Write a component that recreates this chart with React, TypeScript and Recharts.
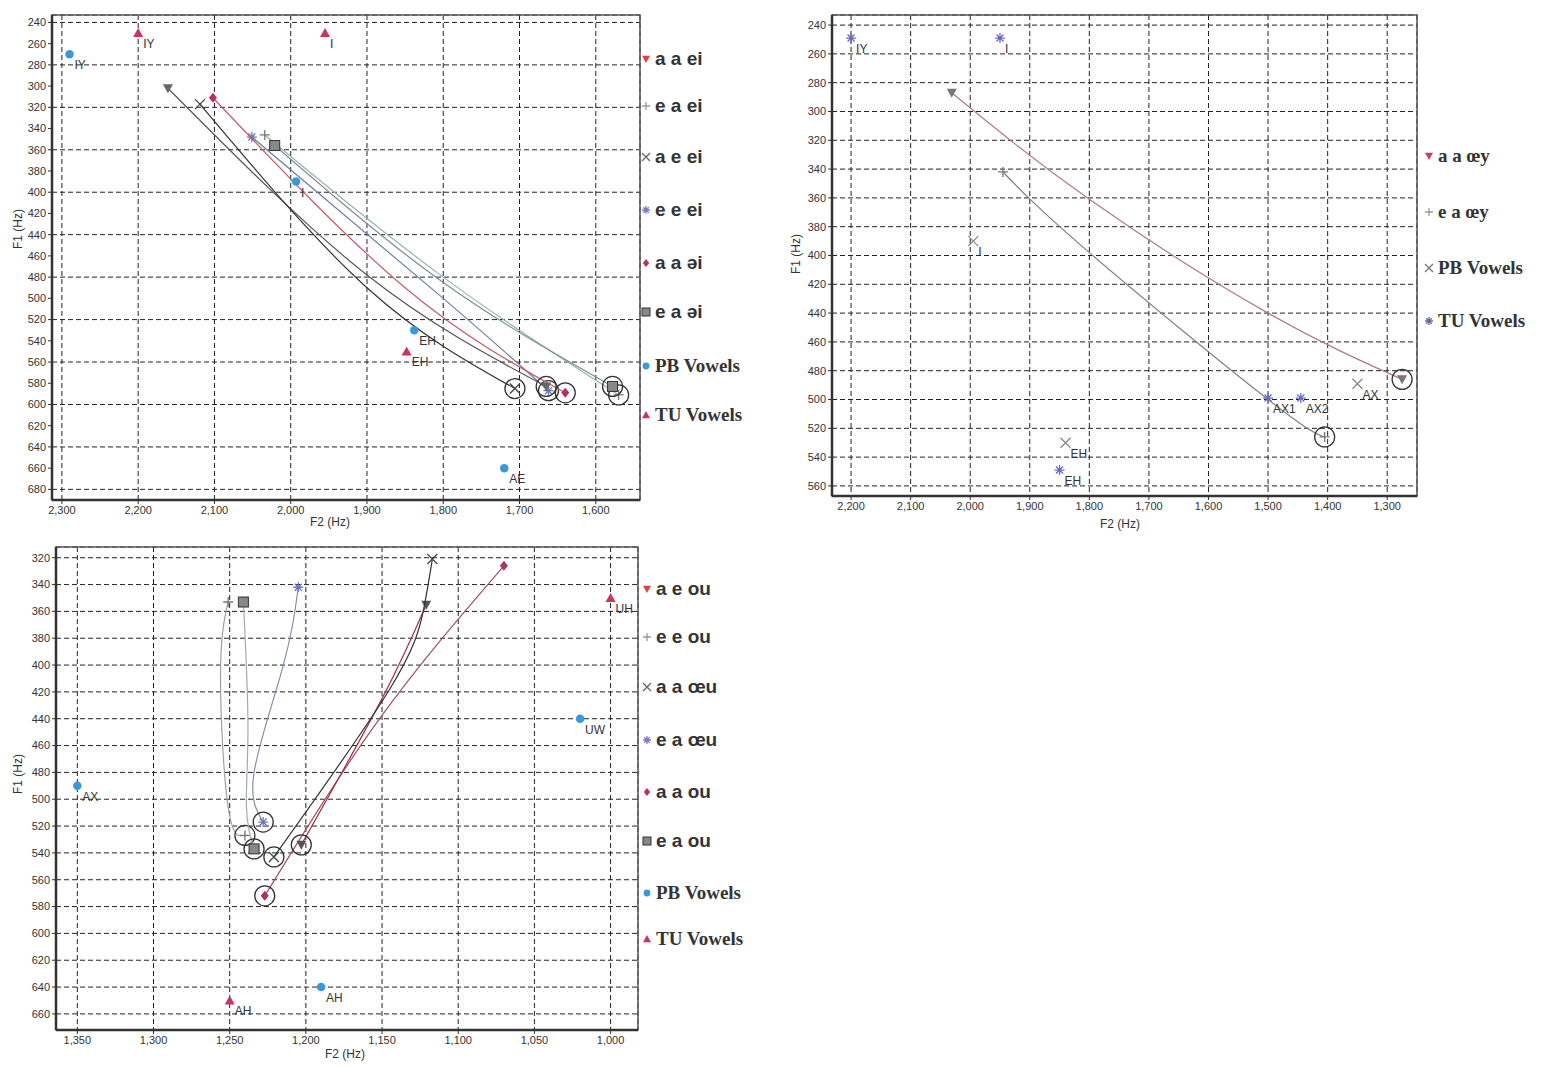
import React from "react";
import { ScatterChart, Scatter, XAxis, YAxis, CartesianGrid, ReferenceArea } from "recharts";

type Pt = { f2: number; f1: number; label?: string };

// ---- panel 1: ei / əi ----
const p1PB: Pt[] = [
  { f2: 2290, f1: 270, label: "IY" },
  { f2: 1993, f1: 390, label: "I" },
  { f2: 1838, f1: 530, label: "EH" },
  { f2: 1720, f1: 660, label: "AE" },
];
const p1TU: Pt[] = [
  { f2: 2200, f1: 250, label: "IY" },
  { f2: 1955, f1: 250, label: "I" },
  { f2: 1848, f1: 550, label: "EH" },
];
const p1AaEi: Pt[] = [{ f2: 2161, f1: 302 }, { f2: 1900, f1: 478 }, { f2: 1665, f1: 583 }];
const p1EaEi: Pt[] = [{ f2: 2034, f1: 346 }, { f2: 1800, f1: 480 }, { f2: 1570, f1: 591 }];
const p1AeEi: Pt[] = [{ f2: 2119, f1: 317 }, { f2: 1900, f1: 490 }, { f2: 1706, f1: 585 }];
const p1EeEi: Pt[] = [{ f2: 2051, f1: 348 }, { f2: 1800, f1: 500 }, { f2: 1662, f1: 587 }];
const p1AaSchwaI: Pt[] = [{ f2: 2102, f1: 311 }, { f2: 1850, f1: 490 }, { f2: 1640, f1: 589 }];
const p1EaSchwaI: Pt[] = [{ f2: 2021, f1: 356 }, { f2: 1800, f1: 485 }, { f2: 1578, f1: 583 }];
const p1XTicks = [2300, 2200, 2100, 2000, 1900, 1800, 1700, 1600];
const p1YTicks = [240, 260, 280, 300, 320, 340, 360, 380, 400, 420, 440, 460, 480, 500, 520, 540, 560, 580, 600, 620, 640, 660, 680];

// ---- panel 2: œy ----
const p2PB: Pt[] = [
  { f2: 1995, f1: 390, label: "I" },
  { f2: 1840, f1: 530, label: "EH" },
  { f2: 1350, f1: 489, label: "AX" },
];
const p2TU: Pt[] = [
  { f2: 2200, f1: 249, label: "IY" },
  { f2: 1950, f1: 249, label: "I" },
  { f2: 1850, f1: 549, label: "EH" },
  { f2: 1500, f1: 499, label: "AX1" },
  { f2: 1445, f1: 499, label: "AX2" },
];
const p2AaOey: Pt[] = [{ f2: 2031, f1: 287 }, { f2: 1800, f1: 361 }, { f2: 1500, f1: 440 }, { f2: 1275, f1: 486 }];
const p2EaOey: Pt[] = [{ f2: 1945, f1: 342 }, { f2: 1800, f1: 398 }, { f2: 1503, f1: 499 }, { f2: 1405, f1: 526 }];
const p2XTicks = [2200, 2100, 2000, 1900, 1800, 1700, 1600, 1500, 1400, 1300];
const p2YTicks = [240, 260, 280, 300, 320, 340, 360, 380, 400, 420, 440, 460, 480, 500, 520, 540, 560];

// ---- panel 3: ou / œu ----
const p3PB: Pt[] = [
  { f2: 1350, f1: 490, label: "AX" },
  { f2: 1020, f1: 440, label: "UW" },
  { f2: 1190, f1: 640, label: "AH" },
];
const p3TU: Pt[] = [
  { f2: 1000, f1: 350, label: "UH" },
  { f2: 1250, f1: 650, label: "AH" },
];
const p3AeOu: Pt[] = [{ f2: 1121, f1: 355 }, { f2: 1150, f1: 425 }, { f2: 1203, f1: 534 }];
const p3EeOu: Pt[] = [{ f2: 1251, f1: 353 }, { f2: 1256, f1: 406 }, { f2: 1251, f1: 506 }, { f2: 1240, f1: 527 }];
const p3AaOeu: Pt[] = [{ f2: 1117, f1: 321 }, { f2: 1123, f1: 360 }, { f2: 1145, f1: 418 }, { f2: 1221, f1: 543 }];
const p3EaOeu: Pt[] = [{ f2: 1205, f1: 342 }, { f2: 1215, f1: 401 }, { f2: 1234, f1: 480 }, { f2: 1228, f1: 517 }];
const p3AaOu: Pt[] = [{ f2: 1070, f1: 326 }, { f2: 1151, f1: 439 }, { f2: 1227, f1: 572 }];
const p3EaOu: Pt[] = [{ f2: 1241, f1: 353 }, { f2: 1238, f1: 446 }, { f2: 1239, f1: 506 }, { f2: 1234, f1: 537 }];
const p3XTicks = [1350, 1300, 1250, 1200, 1150, 1100, 1050, 1000];
const p3YTicks = [320, 340, 360, 380, 400, 420, 440, 460, 480, 500, 520, 540, 560, 580, 600, 620, 640, 660];

type Kind = "circle" | "tri" | "itri" | "diamond" | "square" | "plus" | "x" | "star";

function Glyph({ kind, x, y, color, s = 5 }: { kind: Kind; x: number; y: number; color: string; s?: number }) {
  switch (kind) {
    case "circle":
      return <circle cx={x} cy={y} r={s * 0.85} fill={color} />;
    case "tri":
      return <polygon points={`${x},${y - s} ${x + s},${y + s * 0.8} ${x - s},${y + s * 0.8}`} fill={color} />;
    case "itri":
      return <polygon points={`${x},${y + s} ${x + s},${y - s * 0.8} ${x - s},${y - s * 0.8}`} fill={color} />;
    case "diamond":
      return <polygon points={`${x},${y - s} ${x + s * 0.8},${y} ${x},${y + s} ${x - s * 0.8},${y}`} fill={color} />;
    case "square":
      return <rect x={x - s} y={y - s} width={2 * s} height={2 * s} fill={color} stroke="#333" strokeWidth={1} />;
    case "plus":
      return <path d={`M${x - s},${y}H${x + s}M${x},${y - s}V${y + s}`} stroke={color} strokeWidth={1.3} />;
    case "x":
      return <path d={`M${x - s},${y - s}L${x + s},${y + s}M${x + s},${y - s}L${x - s},${y + s}`} stroke={color} strokeWidth={1.3} />;
    case "star":
      return (
        <path
          d={`M${x - s},${y}H${x + s}M${x},${y - s}V${y + s}M${x - s * 0.7},${y - s * 0.7}L${x + s * 0.7},${y + s * 0.7}M${x + s * 0.7},${y - s * 0.7}L${x - s * 0.7},${y + s * 0.7}`}
          stroke={color}
          strokeWidth={1.3}
        />
      );
  }
  return null;
}

type VowelSet = { data: Pt[]; kind: Kind; color: string };
type Traj = { data: Pt[]; kind: Kind; color: string; line: string };
type LegendItem = { name: string; kind: Kind; color: string; y: number; serif?: boolean };

type PanelProps = {
  left: number;
  top: number;
  width: number;
  height: number;
  margin: { top: number; right: number; bottom: number; left: number };
  yAxisWidth: number;
  xDomain: [number, number];
  yDomain: [number, number];
  xTicks: number[];
  yTicks: number[];
  vowels: VowelSet[];
  trajs: Traj[];
  legend: LegendItem[];
  legendX: number;
  xTitle: [number, number];
  yTitle: [number, number];
};

const fmt = (v: number) => v.toLocaleString("en-US");
const tickStyle = { fontSize: 11, fill: "#333", fontFamily: "Liberation Sans, Arial, sans-serif" };

function Panel(p: PanelProps) {
  return (
    <div style={{ position: "absolute", left: p.left, top: p.top, width: p.width, height: p.height }}>
      <ScatterChart width={p.width} height={p.height} margin={p.margin}>
        <CartesianGrid stroke="#222" strokeDasharray="5 3" strokeWidth={1} />
        <XAxis
          type="number"
          dataKey="f2"
          domain={p.xDomain}
          ticks={p.xTicks}
          reversed
          allowDataOverflow
          height={30}
          tickFormatter={fmt}
          tick={tickStyle}
          tickSize={4}
          tickLine={{ stroke: "#333" }}
          axisLine={{ stroke: "#333", strokeWidth: 2.5 }}
        />
        <YAxis
          type="number"
          dataKey="f1"
          domain={p.yDomain}
          ticks={p.yTicks}
          reversed
          allowDataOverflow
          width={p.yAxisWidth}
          tick={tickStyle}
          tickSize={4}
          tickLine={{ stroke: "#333" }}
          axisLine={{ stroke: "#333", strokeWidth: 2.5 }}
        />
        <ReferenceArea
          x1={p.xDomain[0]}
          x2={p.xDomain[1]}
          y1={p.yDomain[0]}
          y2={p.yDomain[1]}
          fill="none"
          stroke="#555"
          strokeWidth={1.5}
          ifOverflow="visible"
        />
        {p.trajs.map((t, i) => {
          const first = t.data[0];
          const last = t.data[t.data.length - 1];
          return (
            <Scatter
              key={"t" + i}
              data={t.data}
              isAnimationActive={false}
              line={{ stroke: t.line, strokeWidth: 1.2 }}
              lineJointType="natural"
              shape={(sp: any) => {
                const d = sp.payload || {};
                if (d.f2 === first.f2 && d.f1 === first.f1)
                  return <Glyph kind={t.kind} x={sp.cx} y={sp.cy} color={t.color} s={5} />;
                if (d.f2 === last.f2 && d.f1 === last.f1)
                  return (
                    <g>
                      <Glyph kind={t.kind} x={sp.cx} y={sp.cy} color={t.color} s={5} />
                      <circle cx={sp.cx} cy={sp.cy} r={10} fill="none" stroke="#333" strokeWidth={1.3} />
                    </g>
                  );
                return <g />;
              }}
            />
          );
        })}
        {p.vowels.map((v, i) => (
          <Scatter
            key={"v" + i}
            data={v.data}
            isAnimationActive={false}
            shape={(sp: any) => (
              <g>
                <Glyph kind={v.kind} x={sp.cx} y={sp.cy} color={v.color} s={5} />
                <text x={sp.cx + 5} y={sp.cy + 15} fontSize={12} fill="#333" fontFamily="Liberation Sans, Arial, sans-serif">
                  {sp.payload?.label}
                </text>
              </g>
            )}
          />
        ))}
      </ScatterChart>
      <div
        style={{
          position: "absolute",
          left: p.xTitle[0] - 40,
          top: p.xTitle[1] - 8,
          width: 80,
          textAlign: "center",
          font: "12px 'Liberation Sans', Arial, sans-serif",
          color: "#333",
        }}
      >
        F2 (Hz)
      </div>
      <div
        style={{
          position: "absolute",
          left: p.yTitle[0] - 40,
          top: p.yTitle[1] - 8,
          width: 80,
          textAlign: "center",
          transform: "rotate(-90deg)",
          font: "12px 'Liberation Sans', Arial, sans-serif",
          color: "#333",
        }}
      >
        F1 (Hz)
      </div>
      {p.legend.map((l, i) => (
        <div
          key={"l" + i}
          style={{
            position: "absolute",
            left: p.legendX,
            top: l.y - 13,
            height: 26,
            display: "flex",
            alignItems: "center",
            whiteSpace: "nowrap",
            color: "#333",
            fontWeight: "bold",
            fontSize: 19,
            fontFamily: l.serif ? "'Liberation Serif', 'Times New Roman', serif" : "'Liberation Sans', Arial, sans-serif",
          }}
        >
          <svg width={12} height={14} style={{ marginRight: 2 }}>
            <Glyph kind={l.kind} x={5} y={7} color={l.color} s={4} />
          </svg>
          {l.name}
        </div>
      ))}
    </div>
  );
}

const PB_COLOR = "#3a9ad9";
const TU_COLOR = "#c8365e";

export default function App() {
  return (
    <div style={{ position: "absolute", left: 0, top: 0, width: 1549, height: 1066, background: "#fff", overflow: "hidden" }}>
      <Panel
        left={0}
        top={0}
        width={790}
        height={540}
        margin={{ top: 15, right: 150, bottom: 10, left: 0 }}
        yAxisWidth={52}
        xDomain={[1542, 2313]}
        yDomain={[233, 690]}
        xTicks={p1XTicks}
        yTicks={p1YTicks}
        trajs={[
          { data: p1EaEi, kind: "plus", color: "#777", line: "#8fb8a8" },
          { data: p1EaSchwaI, kind: "square", color: "#888", line: "#7f8c94" },
          { data: p1EeEi, kind: "star", color: "#6a7ab8", line: "#6a7fa8" },
          { data: p1AaSchwaI, kind: "diamond", color: "#b8305a", line: "#c85a68" },
          { data: p1AaEi, kind: "itri", color: "#666", line: "#555" },
          { data: p1AeEi, kind: "x", color: "#444", line: "#333" },
        ]}
        vowels={[
          { data: p1PB, kind: "circle", color: PB_COLOR },
          { data: p1TU, kind: "tri", color: TU_COLOR },
        ]}
        legendX={641}
        legend={[
          { name: "a a ei", kind: "itri", color: "#e04040", y: 59 },
          { name: "e a ei", kind: "plus", color: "#999", y: 106 },
          { name: "a e ei", kind: "x", color: "#666", y: 157 },
          { name: "e e ei", kind: "star", color: "#7a7ad0", y: 210 },
          { name: "a a əi", kind: "diamond", color: "#c0305a", y: 263 },
          { name: "e a əi", kind: "square", color: "#888", y: 312 },
          { name: "PB Vowels", kind: "circle", color: PB_COLOR, y: 366, serif: true },
          { name: "TU Vowels", kind: "tri", color: TU_COLOR, y: 415, serif: true },
        ]}
        xTitle={[330, 523]}
        yTitle={[18, 230]}
      />
      <Panel
        left={780}
        top={0}
        width={769}
        height={540}
        margin={{ top: 15, right: 132, bottom: 14, left: 0 }}
        yAxisWidth={52}
        xDomain={[1250, 2232]}
        yDomain={[233, 567]}
        xTicks={p2XTicks}
        yTicks={p2YTicks}
        trajs={[
          { data: p2AaOey, kind: "itri", color: "#777", line: "#b07888" },
          { data: p2EaOey, kind: "plus", color: "#777", line: "#808080" },
        ]}
        vowels={[
          { data: p2PB, kind: "x", color: "#888" },
          { data: p2TU, kind: "star", color: "#6a6ac0" },
        ]}
        legendX={644}
        legend={[
          { name: "a a œy", kind: "itri", color: "#c0406a", y: 156, serif: true },
          { name: "e a œy", kind: "plus", color: "#999", y: 212, serif: true },
          { name: "PB Vowels", kind: "x", color: "#777", y: 268, serif: true },
          { name: "TU Vowels", kind: "star", color: "#6a6aa0", y: 321, serif: true },
        ]}
        xTitle={[340, 525]}
        yTitle={[16, 255]}
      />
      <Panel
        left={0}
        top={530}
        width={790}
        height={536}
        margin={{ top: 17, right: 152, bottom: 6, left: 0 }}
        yAxisWidth={56}
        xDomain={[982, 1364]}
        yDomain={[312, 672]}
        xTicks={p3XTicks}
        yTicks={p3YTicks}
        trajs={[
          { data: p3EeOu, kind: "plus", color: "#777", line: "#a0a0a0" },
          { data: p3EaOu, kind: "square", color: "#888", line: "#a8a8a8" },
          { data: p3EaOeu, kind: "star", color: "#6a7ab8", line: "#8090a8" },
          { data: p3AaOu, kind: "diamond", color: "#a8385a", line: "#a05060" },
          { data: p3AeOu, kind: "itri", color: "#555", line: "#a03040" },
          { data: p3AaOeu, kind: "x", color: "#444", line: "#333" },
        ]}
        vowels={[
          { data: p3PB, kind: "circle", color: PB_COLOR },
          { data: p3TU, kind: "tri", color: TU_COLOR },
        ]}
        legendX={642}
        legend={[
          { name: "a e ou", kind: "itri", color: "#e04040", y: 589 - 530 },
          { name: "e e ou", kind: "plus", color: "#999", y: 637 - 530 },
          { name: "a a œu", kind: "x", color: "#666", y: 687 - 530 },
          { name: "e a œu", kind: "star", color: "#7a7ad0", y: 740 - 530 },
          { name: "a a ou", kind: "diamond", color: "#c0305a", y: 792 - 530 },
          { name: "e a ou", kind: "square", color: "#888", y: 841 - 530 },
          { name: "PB Vowels", kind: "circle", color: PB_COLOR, y: 893 - 530, serif: true },
          { name: "TU Vowels", kind: "tri", color: TU_COLOR, y: 939 - 530, serif: true },
        ]}
        xTitle={[345, 1055 - 530]}
        yTitle={[18, 775 - 530]}
      />
    </div>
  );
}
